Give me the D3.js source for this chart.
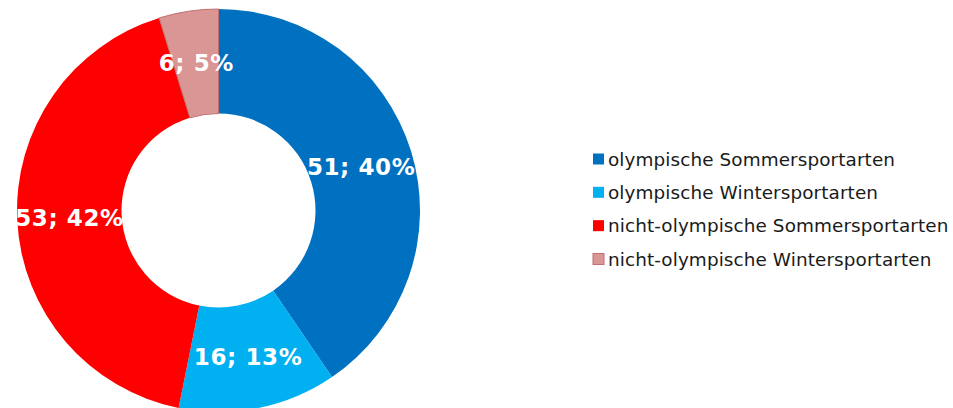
<!DOCTYPE html>
<html>
<head>
<meta charset="utf-8">
<script src="https://cdn.jsdelivr.net/npm/d3@7"></script>
<style>
  html, body { margin: 0; padding: 0; background: #fff; }
  svg { display: block; }
</style>
</head>
<body>
<svg id="chart" width="953" height="408"></svg>
<script>
const categories = [
  "olympische Sommersportarten",
  "olympische Wintersportarten",
  "nicht-olympische Sommersportarten",
  "nicht-olympische Wintersportarten"
];
const values = [51, 16, 53, 6];
const percentLabels = ["40%", "13%", "42%", "5%"];
const colors = ["#0070C0", "#00B0F0", "#FF0000", "#D99694"];
const strokes = ["none", "none", "none", "#C0706E"];

const svg = d3.select("#chart");
const cx = 218.5, cy = 210.5, R = 201.5, r = 97;

const pie = d3.pie().sort(null).value(d => d.v);
const data = values.map((v, i) => ({ v, i }));
const arcs = pie(data);
const arc = d3.arc().innerRadius(r).outerRadius(R);
const labelArc = d3.arc().innerRadius((r + R) / 2).outerRadius((r + R) / 2);

const g = svg.append("g").attr("transform", `translate(${cx},${cy})`);
g.selectAll("path.slice")
  .data(arcs)
  .enter().append("path")
  .attr("class", "slice")
  .attr("d", arc)
  .attr("fill", d => colors[d.data.i])
  .attr("stroke", d => strokes[d.data.i])
  .attr("stroke-width", 1);

g.selectAll("text.lbl")
  .data(arcs)
  .enter().append("text")
  .attr("class", "lbl")
  .attr("transform", d => `translate(${labelArc.centroid(d)})`)
  .attr("text-anchor", "middle")
  .attr("dy", "0.36em")
  .attr("font-family", "DejaVu Sans, Verdana, sans-serif")
  .attr("font-weight", "bold")
  .attr("font-size", 23)
  .attr("letter-spacing", 0.6)
  .attr("fill", "#fff")
  .text(d => `${values[d.data.i]}; ${percentLabels[d.data.i]}`);

const legend = svg.append("g").attr("transform", "translate(593,0)");
const rowY = d3.scalePoint().domain(categories).range([159, 259]);
const rows = legend.selectAll("g.row")
  .data(categories)
  .enter().append("g")
  .attr("class", "row")
  .attr("transform", d => `translate(0,${rowY(d)})`);
rows.append("rect")
  .attr("x", 0).attr("y", -5.5)
  .attr("width", 11).attr("height", 11)
  .attr("fill", (d, i) => colors[i])
  .attr("stroke", (d, i) => strokes[i]);
rows.append("text")
  .attr("x", 15)
  .attr("y", 0)
  .attr("dy", "0.36em")
  .attr("font-family", "DejaVu Sans, Verdana, sans-serif")
  .attr("font-size", 18.4)
  .attr("letter-spacing", 0.1)
  .attr("fill", "#1a1a1a")
  .text(d => d);
</script>
</body>
</html>
